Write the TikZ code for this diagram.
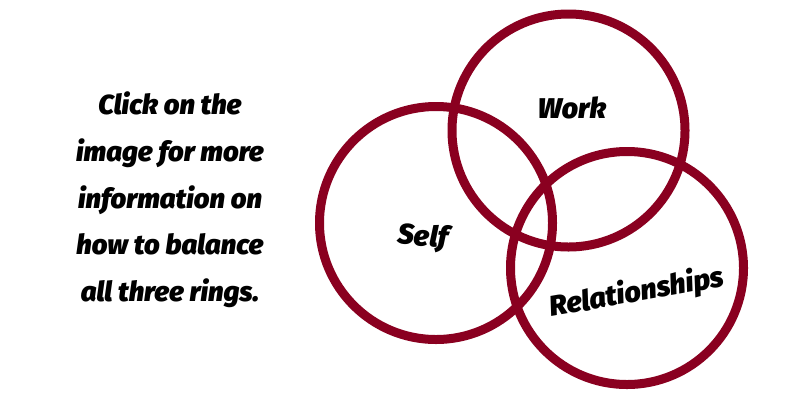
\documentclass[tikz,border=0pt]{standalone}
\usepackage{fontspec}
\setmainfont{Fira Sans}[BoldItalicFont={Fira Sans Black Italic}]
\usepackage{xcolor}
\definecolor{ringred}{HTML}{8A0020}

\begin{document}
\begin{tikzpicture}[x=1pt, y=-1pt,
		ring/.style={circle, draw=ringred, line width=9pt, minimum size=233pt, inner sep=0pt},
		ringtext/.style={font=\fontsize{28.5}{30}\selectfont\bfseries\itshape}]
		\fill[white] (0,0) rectangle (800,400);
		\node[align=center, font=\fontsize{27.5}{46.7}\selectfont\bfseries\itshape] (note) at (170,200) {Click on the\\image for more\\information on\\how to balance\\all three rings.};
		\node[ring] (work) at (568.5,130.5) {};
		\node[ring] (self) at (436,223) {};
		\node[ring] (rel) at (627,268) {};
		\node[ringtext] (worktext) at (572,108) {Work};
		\node[ringtext, rotate=-4] (selftext) at (423,238) {Self};
		\node[ringtext, rotate=10] (reltext) at (637,293) {Relationships};
	\end{tikzpicture}
\end{document}
